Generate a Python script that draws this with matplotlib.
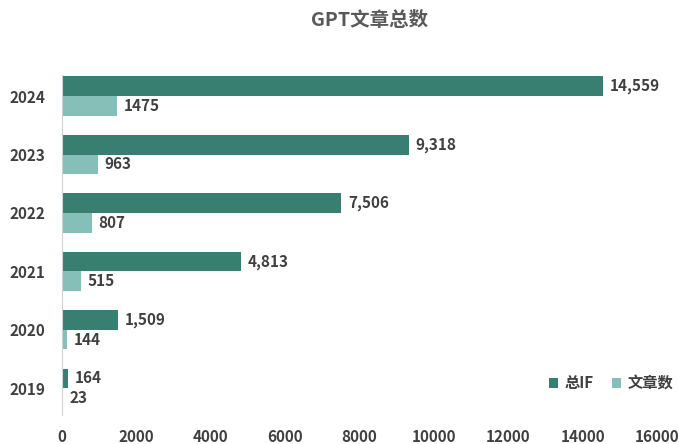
import numpy as np
import matplotlib.pyplot as plt

plt.rcParams['font.family'] = ['Noto Sans CJK SC', 'DejaVu Sans']

years = ['2019', '2020', '2021', '2022', '2023', '2024']
total_if = [164, 1509, 4813, 7506, 9318, 14559]
articles = [23, 144, 515, 807, 963, 1475]

dark = '#387e71'
light = '#86bfb7'
txt = '#404040'

fig = plt.figure(figsize=(6.79, 4.44), dpi=100)
ax = fig.add_axes([0.0913, 0.065, 0.8763, 0.766])

y = np.arange(len(years))
h = 0.335
b1 = ax.barh(y + h / 2, total_if, height=h, color=dark, label='总IF')
b2 = ax.barh(y - h / 2, articles, height=h, color=light, label='文章数')

for rect, v in zip(b1, total_if):
    ax.text(rect.get_width() + 180, rect.get_y() + rect.get_height() / 2, f'{v:,}',
            va='center', ha='left', fontsize=11, fontweight='bold', color=txt)
for rect, v in zip(b2, articles):
    ax.text(rect.get_width() + 180, rect.get_y() + rect.get_height() / 2, f'{v}',
            va='center', ha='left', fontsize=11, fontweight='bold', color=txt)

ax.set_xlim(0, 16000)
ax.set_ylim(-0.46, 5.36)
ax.set_xticks(np.arange(0, 16001, 2000))
ax.set_yticks(y)
ax.set_yticklabels(years)
ax.tick_params(length=0, labelsize=11, labelcolor=txt)
ax.tick_params(axis='y', pad=12)
ax.tick_params(axis='x', pad=10)
for lab in ax.get_xticklabels() + ax.get_yticklabels():
    lab.set_fontweight('bold')

for s in ['top', 'right', 'bottom']:
    ax.spines[s].set_visible(False)
ax.spines['left'].set_color('#d0d0d0')

fig.suptitle('GPT文章总数', x=0.545, y=0.975, fontsize=14, fontweight='bold', color='#595959')

leg = ax.legend(loc='lower right', bbox_to_anchor=(1.05, 0.03), ncol=2, frameon=False,
                handlelength=0.6, handleheight=0.6, handletextpad=0.4, columnspacing=1.2,
                prop={'size': 11, 'weight': 'bold'})
for t in leg.get_texts():
    t.set_color(txt)

fig.savefig('out.png', dpi=100)
